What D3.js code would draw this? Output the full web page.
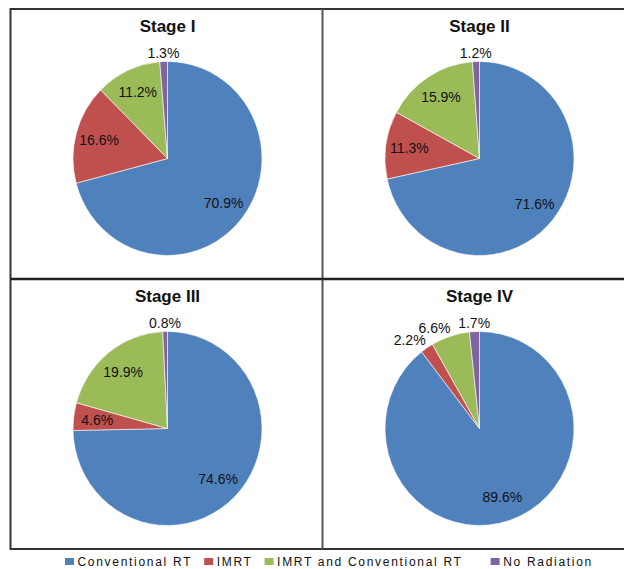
<!DOCTYPE html>
<html>
<head>
<meta charset="utf-8">
<script src="https://cdn.jsdelivr.net/npm/d3@7"></script>
<style>
  body { margin: 0; background: #fff; }
  text { font-family: Arial, "Liberation Sans", sans-serif; fill: #111; }
</style>
</head>
<body>
<div id="container"></div>
<script>
const stages = ["Stage I", "Stage II", "Stage III", "Stage IV"];
const categories = ["Conventional RT", "IMRT", "IMRT and Conventional RT", "No Radiation"];
const stageI = [70.9, 16.6, 11.2, 1.3];
const stageII = [71.6, 11.3, 15.9, 1.2];
const stageIII = [74.6, 4.6, 19.9, 0.8];
const stageIV = [89.6, 2.2, 6.6, 1.7];
const colors = ["#4F81BD", "#C0504D", "#9BBB59", "#8064A2"];

const allValues = [stageI, stageII, stageIII, stageIV];

const width = 624;
const height = 569;

const svg = d3.select("#container")
    .append("svg")
    .attr("width", width)
    .attr("height", height);

// panels: 2 columns x 2 rows, the right column runs past the picture edge
const xPanel = d3.scaleBand().domain([0, 1]).range([10.5, 634.5]);
const yPanel = d3.scaleBand().domain([0, 1]).range([9, 549]);

const color = d3.scaleOrdinal().domain(categories).range(colors);

const rx = 94.5;
const ry = 97;

const pie = d3.pie().sort(null).value(d => d.value);
const arc = d3.arc().innerRadius(0).outerRadius(ry);

// frame
const frame = svg.append("g");
frame.append("rect")
    .attr("x", xPanel(0)).attr("y", yPanel(0))
    .attr("width", xPanel.bandwidth() * 2).attr("height", yPanel.bandwidth() * 2)
    .attr("fill", "none").attr("stroke", "#333").attr("stroke-width", 2);
frame.append("line")
    .attr("x1", xPanel(1)).attr("x2", xPanel(1))
    .attr("y1", yPanel(0)).attr("y2", yPanel(1) + yPanel.bandwidth())
    .attr("stroke", "#555").attr("stroke-width", 2);
frame.append("line")
    .attr("x1", xPanel(0)).attr("x2", width)
    .attr("y1", yPanel(1)).attr("y2", yPanel(1))
    .attr("stroke", "#222").attr("stroke-width", 2.5);

stages.forEach((stage, i) => {
    const col = i % 2;
    const row = Math.floor(i / 2);
    const cx = xPanel(col) + 157;
    const cy = yPanel(row) + 149.5;

    const g = svg.append("g").attr("transform", `translate(${cx},${cy})`);

    g.append("text")
        .attr("x", 0)
        .attr("y", -126.5)
        .attr("text-anchor", "middle")
        .style("font-size", "17px")
        .style("font-weight", "bold")
        .text(stage);

    const data = categories.map((c, k) => ({ name: c, value: allValues[i][k] }));
    const arcs = pie(data);

    g.append("g")
        .attr("transform", `scale(${rx / ry},1)`)
        .selectAll("path")
        .data(arcs)
        .enter()
        .append("path")
        .attr("d", arc)
        .attr("fill", d => color(d.data.name))
        .attr("stroke", "#fff")
        .attr("stroke-width", 0.6);

    const labels = g.selectAll(".lbl")
        .data(arcs)
        .enter()
        .append("text")
        .attr("class", "lbl")
        .style("font-size", "14px")
        .text(d => d.data.value.toFixed(1) + "%");

    // inside when the label fits in the slice, otherwise just outside the rim
    labels.each(function(d) {
        const t = d3.select(this);
        const w = this.getComputedTextLength();
        const h = 13;
        const mid = (d.startAngle + d.endAngle) / 2;
        const s = Math.sin(mid);
        const c = Math.cos(mid);
        const span = d.endAngle - d.startAngle;
        const chord = 2 * 0.75 * rx * Math.sin(Math.min(span, Math.PI) / 2);
        const need = Math.abs(c) * w + Math.abs(s) * h;
        if (span > Math.PI || need < chord) {
            t.attr("x", 0.75 * rx * s)
                .attr("y", -0.75 * ry * c + 5)
                .attr("text-anchor", "middle");
        } else {
            const anchor = s < -0.25 ? "end" : (s > 0.25 ? "start" : "middle");
            t.attr("x", (rx + 6) * s + (anchor === "end" ? 2 : 0))
                .attr("y", -(ry + 6) * c + 2)
                .attr("text-anchor", anchor);
        }
    });
});

// legend
const legend = svg.append("g").attr("transform", "translate(65,566)");
const gaps = [0, 12, 12, 28];
let lx = 0;
categories.forEach((c, k) => {
    lx += gaps[k];
    legend.append("rect")
        .attr("x", lx)
        .attr("y", -8)
        .attr("width", 9)
        .attr("height", 7)
        .attr("fill", color(c));
    const t = legend.append("text")
        .attr("x", lx + 12.5)
        .attr("y", 0)
        .style("font-size", "12px")
        .style("letter-spacing", "1.7px")
        .text(c);
    lx += 12.5 + t.node().getComputedTextLength();
});
</script>
</body>
</html>
